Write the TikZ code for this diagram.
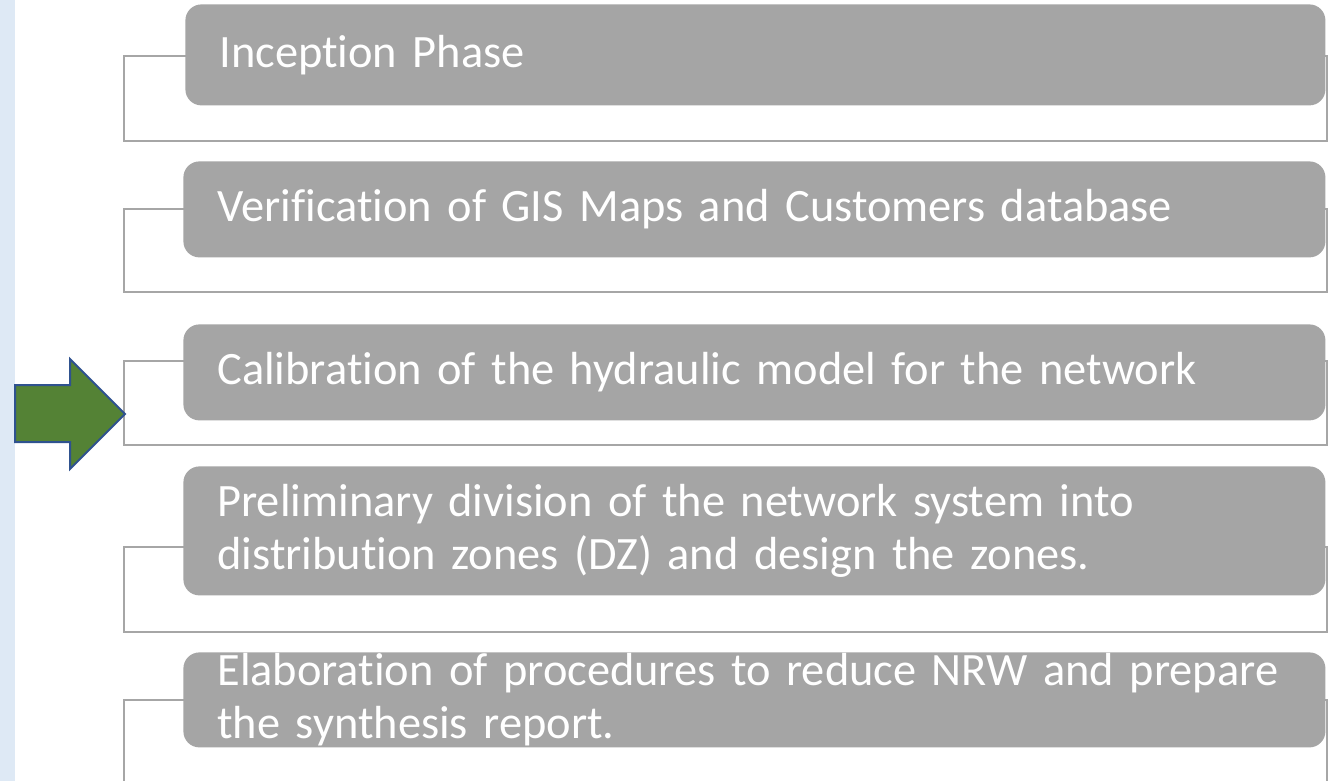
\documentclass[tikz,border=0pt]{standalone}
\usepackage{fontspec}
\setmainfont{Carlito}[Ligatures=NoCommon]
\definecolor{boxgray}{HTML}{A5A5A5}
\definecolor{linegray}{HTML}{A6A6A6}
\definecolor{stripblue}{HTML}{DEE9F5}
\definecolor{arrowgreen}{HTML}{548235}
\definecolor{arrowblue}{HTML}{2F528F}
\tikzset{
  stepbox/.style={draw=none, fill=boxgray, rounded corners=8pt, anchor=north west,
    inner xsep=17pt, inner ysep=0pt, text width=537pt, minimum width=571pt, align=left,
    text=white, font=\fontsize{23.2}{26.5}\selectfont},
  bracket/.style={draw=linegray, line width=1.25pt},
  bigarrow/.style={fill=arrowgreen, draw=arrowblue, line width=1pt, line join=miter}
}
\begin{document}
\begin{tikzpicture}[x=0.5pt, y=-0.5pt]
\useasboundingbox (0,0) rectangle (1332,781);
\clip (0,0) rectangle (1332,781);
\fill[stripblue] (0,0) rectangle (15,781);
% brackets
\draw[bracket] (124,56) rectangle (1327,141);
\draw[bracket] (124,209) rectangle (1327,292);
\draw[bracket] (124,361) rectangle (1327,445);
\draw[bracket] (124,547) rectangle (1327,632);
\draw[bracket] (124,700) rectangle (1327,820);
% boxes
\node[stepbox, text width=536pt, minimum width=570pt, minimum height=50.5pt] (b1) at (185,4) {\mbox{Inception Phase}};
\node[stepbox, minimum height=48pt] (b2) at (183,161) {\mbox{Verification of GIS Maps and Customers database}};
\node[stepbox, minimum height=48pt] (b3) at (183,324) {\mbox{Calibration of the hydraulic model for the network}};
\node[stepbox, minimum height=64.5pt] (b4) at (183,466) {\mbox{Preliminary division of the network system into}\\\mbox{distribution zones (DZ) and design the zones.}};
\node[stepbox, minimum height=47.5pt] (b5) at (183,652) {\mbox{Elaboration of procedures to reduce NRW and prepare}\\\mbox{the synthesis report.}};
% arrow
\draw[bigarrow] (15,385) -- (70,385) -- (70,359) -- (125,414) -- (70,469) -- (70,442) -- (15,442) -- cycle;
\end{tikzpicture}
\end{document}
